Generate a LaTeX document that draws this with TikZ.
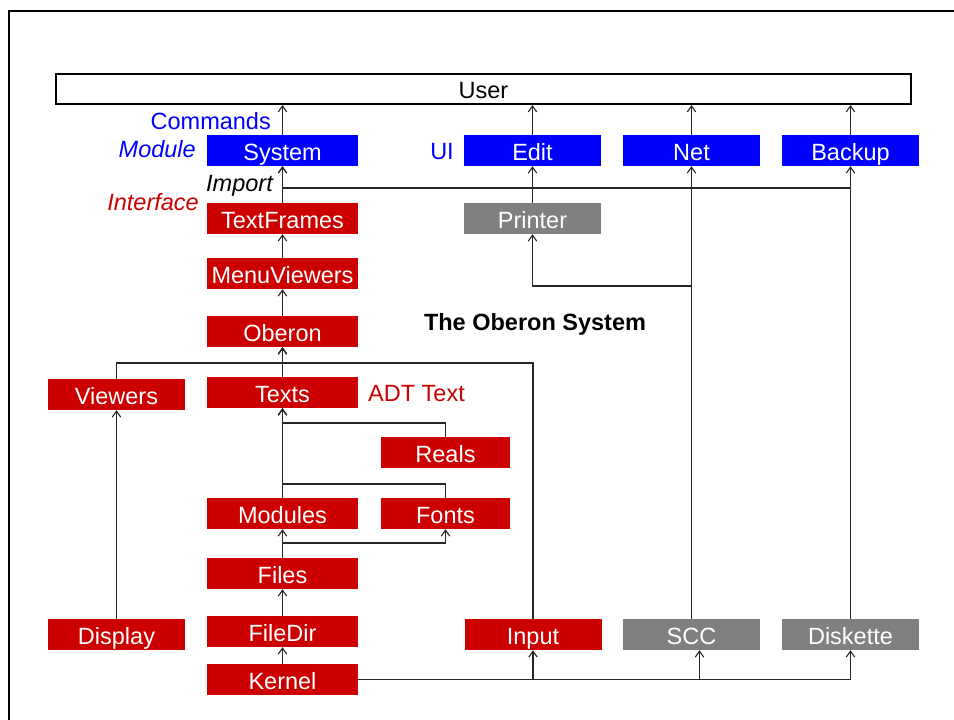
\documentclass[tikz,border=0pt]{standalone}
\usepackage{fontspec}
\setmainfont{Liberation Sans}
\usetikzlibrary{arrows.meta, backgrounds}
\definecolor{modblue}{RGB}{0,0,255}
\definecolor{intred}{RGB}{204,0,0}
\definecolor{hwgray}{RGB}{128,128,128}

\begin{document}
\begin{tikzpicture}[
	x=1pt, y=-1pt,
	font=\fontsize{23.5}{28}\selectfont,
	mod/.style={fill=#1, text=white, inner sep=0pt, minimum height=31pt, text height=19pt, text depth=0pt},
	wide/.style={mod=#1, minimum width=151pt},
	mid/.style={mod=#1, minimum width=137pt},
	small/.style={mod=#1, minimum width=129pt},
	lbl/.style={inner sep=0pt, text height=19pt, text depth=0pt},
	line/.style={line width=1.2pt, draw=black!85},
	arr/.style={line, -{Straight Barb[length=6pt, width=8.5pt, line width=1.1pt]}}
]
\useasboundingbox (0,0) rectangle (954,720);
% frame (runs off the page at right and bottom)
\draw[line width=2.5pt] (9,720) -- (9,11) -- (954,11);

% user
\node[draw, line width=2pt, minimum width=855pt, minimum height=30pt, inner sep=0pt, text height=19pt, text depth=0pt] (User) at (483.5,89) {User};

% top row: commands
\node[wide=modblue] (System) at (282.5,150.5) {System};
\node[mid=modblue] (Edit) at (532.5,150.5) {Edit};
\node[mid=modblue] (Net) at (691.5,150.5) {Net};
\node[mid=modblue] (Backup) at (850.5,150.5) {Backup};

% inner core
\node[wide=intred] (TextFrames) at (282.5,218.5) {TextFrames};
\node[mid=hwgray] (Printer) at (532.5,218.5) {Printer};
\node[wide=intred] (MenuViewers) at (282.5,273.5) {MenuViewers};
\node[wide=intred] (Oberon) at (282.5,331.5) {Oberon};
\node[mid=intred] (Viewers) at (116.5,394.5) {Viewers};
\node[wide=intred] (Texts) at (282.5,392.5) {Texts};
\node[small=intred] (Reals) at (445.5,452.5) {Reals};
\node[wide=intred] (Modules) at (282.5,513.5) {Modules};
\node[small=intred] (Fonts) at (445.5,513.5) {Fonts};
\node[wide=intred] (Files) at (282.5,573.5) {Files};
\node[mid=intred] (Display) at (116.5,634.5) {Display};
\node[wide=intred] (FileDir) at (282.5,631.5) {FileDir};
\node[wide=intred] (Kernel) at (282.5,679.5) {Kernel};
\node[mid=intred] (Input) at (533,634.5) {Input};
\node[mid=hwgray] (SCC) at (691.5,634.5) {SCC};
\node[mid=hwgray] (Diskette) at (850.5,634.5) {Diskette};

% legend and title
\node[lbl, text=modblue, anchor=east] (Cmd) at (271,119.5) {Commands};
\node[lbl, text=modblue, anchor=east, font=\fontsize{23.5}{28}\selectfont\itshape] (ModL) at (196,147.5) {Module};
\node[lbl, text=modblue] (UI) at (442,149.5) {UI};
\node[lbl, anchor=east, font=\fontsize{23.5}{28}\selectfont\itshape] (Imp) at (273,181.5) {Import};
\node[lbl, text=intred, anchor=east, font=\fontsize{23.5}{28}\selectfont\itshape] (Intf) at (199,200.5) {Interface};
\node[lbl, text=intred, anchor=west] (ADT) at (368,391.5) {ADT Text};
\node[lbl, font=\fontsize{23.5}{28}\selectfont\bfseries] (Title) at (535,320.5) {The Oberon System};

% junctions
\coordinate (jB) at (850.5,188);
\coordinate (jN) at (691.5,286);
\coordinate (jO) at (282.5,363);
\coordinate (jR) at (282.5,423);
\coordinate (jF) at (282.5,484);
\coordinate (jM) at (282.5,543);

\begin{scope}[on background layer]
% arrows to the user
\foreach \m in {System, Edit, Net, Backup}
	\draw[arr] (\m.north) -- (\m.north |- User.south);

% imports
\draw[arr] (TextFrames) -- (System);
\draw[arr] (jB) -| (System.south);
\draw[arr] (Printer) -- (Edit);
\draw[arr] (SCC) -- (Net);
\draw[arr] (jN) -| (Printer.south);
\draw[arr] (Diskette) -- (Backup);
\draw[arr] (MenuViewers) -- (TextFrames);
\draw[arr] (Oberon) -- (MenuViewers);
\draw[arr] (Texts) -- (Oberon);
\draw[arr] (Viewers.north) |- (jO) -- (Oberon.south);
\draw[arr] (Input.north) |- (jO) -- (Oberon.south);
\draw[arr] (Modules) -- (Texts);
\draw[arr] (Reals.north) |- (jR) -- (Texts.south);
\draw[arr] (Fonts.north) |- (jF) -- (Texts.south);
\draw[arr] (Files) -- (Modules);
\draw[arr] (jM) -| (Fonts.south);
\draw[arr] (FileDir) -- (Files);
\draw[arr] (Kernel) -- (FileDir);
\draw[arr] (Display) -- (Viewers);
\draw[arr] (Kernel.east) -| (Input.south);
\draw[arr] (Kernel.east) -| ([xshift=8pt]SCC.south);
\draw[arr] (Kernel.east) -| (Diskette.south);
\end{scope}
\end{tikzpicture}
\end{document}
